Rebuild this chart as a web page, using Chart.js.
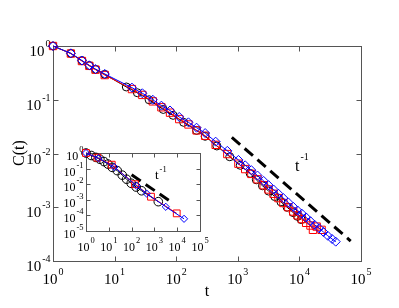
<!DOCTYPE html>
<html>
<head>
<meta charset="utf-8">
<script src="https://cdn.jsdelivr.net/npm/chart.js@4.4.1/dist/chart.umd.min.js"></script>
<style>
  html, body { margin: 0; padding: 0; background: #fff; }
  #wrap { position: relative; width: 399px; height: 308px; }
  #wrap canvas { position: absolute; left: 0; top: 0; }
</style>
</head>
<body>
<div id="wrap">
  <canvas id="mainChart" width="399" height="308"></canvas>
  <canvas id="insetChart" width="399" height="308"></canvas>
</div>
<script>
// ===== DATA (main panel) =====
const tBlue = [1, 1.95, 2.95, 3.89, 4.9, 6.92, 19.1, 28.2, 41.7, 57.5, 79.4, 112, 158, 214, 295, 437, 676, 1023, 1318, 1660, 2089, 2630, 3162, 3802, 4571, 5495, 6607, 7943, 9333, 10965, 12882, 15136, 17783, 20893, 24547, 28840, 33884, 38905];
const cBlue = [1, 0.731, 0.537, 0.437, 0.372, 0.302, 0.168, 0.132, 0.1, 0.0776, 0.0631, 0.0479, 0.038, 0.0302, 0.024, 0.0166, 0.0112, 0.00759, 0.00603, 0.0049, 0.00389, 0.00309, 0.00257, 0.00214, 0.00178, 0.00148, 0.00123, 0.00102, 0.000871, 0.000759, 0.000646, 0.00055, 0.000468, 0.000407, 0.000347, 0.000295, 0.000257, 0.000229];

const tRed = [1, 1.95, 2.95, 3.89, 4.9, 6.92, 19.1, 28.2, 41.7, 57.5, 79.4, 112, 158, 214, 295, 437, 676, 1023, 1318, 1660, 2089, 2630, 3162, 3802, 4571, 5495, 6607, 7943, 9333, 10965, 12882, 15136, 16596, 19055, 22909];
const cRed = [1, 0.724, 0.525, 0.427, 0.363, 0.288, 0.158, 0.123, 0.0933, 0.0724, 0.0575, 0.0437, 0.0347, 0.0269, 0.0214, 0.0145, 0.00977, 0.00646, 0.00513, 0.00417, 0.00331, 0.00257, 0.00214, 0.00178, 0.00148, 0.0012, 0.001, 0.000832, 0.000708, 0.000603, 0.000513, 0.000457, 0.00038, 0.000437, 0.00038];

const tBlack = [1, 1.95, 2.95, 3.89, 4.9, 6.92, 15.5, 23.4, 36.3, 61.7, 89.1, 132, 214, 295, 457, 741, 1096, 1585, 1995, 2512, 3162, 3981, 5012, 6310, 7943, 9333, 10715];
const cBlack = [1, 0.727, 0.532, 0.432, 0.367, 0.297, 0.173, 0.135, 0.1, 0.066, 0.0513, 0.038, 0.0269, 0.0209, 0.0138, 0.0087, 0.00603, 0.00427, 0.00324, 0.00251, 0.002, 0.00158, 0.00126, 0.001, 0.000794, 0.000676, 0.000589];

// t^-1 guide
const tGuide = [800, 68000];
const cGuide = [0.02, 0.000235];

// ===== DATA (inset) =====
const tInBlack = [1, 1.7, 2.69, 4.07, 6.17, 9.12, 14.1, 23.4, 38.9, 60.3, 95.5, 158, 275, 1479];
const cInBlack = [1, 0.692, 0.525, 0.398, 0.282, 0.195, 0.12, 0.0741, 0.038, 0.0209, 0.0115, 0.0066, 0.0038, 0.000759];
const tInRed = [1, 3.16, 13.5, 141, 708, 9550];
const cInRed = [1, 0.5, 0.178, 0.01, 0.00158, 0.000135];
const tInBlue = [1, 3.55, 17.4, 166, 457, 3162, 19953];
const cInBlue = [1, 0.468, 0.126, 0.00794, 0.00251, 0.000355, 0.0000603];
const tInGuide = [100, 5500];
const cInGuide = [0.04, 0.000727];

// ===== TICKS =====
const xTicks = [1, 10, 100, 1000, 10000, 100000];
const xExps = ['0', '1', '2', '3', '4', '5'];
const yTicks = [1, 0.1, 0.01, 0.001, 0.0001];
const yExps = ['0', '-1', '-2', '-3', '-4'];
const yInTicks = [1, 0.1, 0.01, 0.001, 0.0001, 0.00001];
const yInExps = ['0', '-1', '-2', '-3', '-4', '-5'];

const SERIF = '"Liberation Serif", "DejaVu Serif", serif';

function pts(ts, cs) { return ts.map((t, i) => ({ x: t, y: cs[i] })); }

function series(ts, cs, color, style, r) {
  return {
    data: pts(ts, cs), borderColor: color, borderWidth: 1,
    pointStyle: style, pointRadius: r, pointBorderColor: color, pointBorderWidth: 1,
    pointBackgroundColor: 'rgba(0,0,0,0)', tension: 0, clip: false
  };
}
function guide(ts, cs) {
  return {
    data: pts(ts, cs), borderColor: '#000', borderWidth: 3, borderDash: [11, 6],
    borderCapStyle: 'butt', pointRadius: 0, tension: 0, clip: false
  };
}

// "10" with a raised exponent
function powText(ctx, base, exp, x, y, align, size, supSize, rise) {
  ctx.font = size + 'px ' + SERIF;
  const wb = ctx.measureText(base).width;
  ctx.font = supSize + 'px ' + SERIF;
  const we = ctx.measureText(exp).width;
  let x0 = x;
  if (align === 'center') x0 = x - (wb + we + 1) / 2;
  if (align === 'right') x0 = x - wb - we - 1;
  ctx.textAlign = 'left';
  ctx.textBaseline = 'alphabetic';
  ctx.font = size + 'px ' + SERIF;
  ctx.fillText(base, x0, y);
  ctx.font = supSize + 'px ' + SERIF;
  ctx.fillText(exp, x0 + wb + 1, y - rise);
}

function framePlugin(o) {
  return {
    id: 'frame',
    beforeDatasetsDraw(chart) {
      const ctx = chart.ctx, a = chart.chartArea;
      const xs = chart.scales.x, ys = chart.scales.y;
      ctx.save();
      if (o.fill) {
        ctx.fillStyle = '#fff';
        ctx.fillRect(a.left, a.top, a.right - a.left, a.bottom - a.top);
      }
      ctx.strokeStyle = '#555';
      ctx.lineWidth = 1;
      const L = Math.round(a.left) + 0.5, R = Math.round(a.right) + 0.5;
      const T = Math.round(a.top) + 0.5, B = Math.round(a.bottom) + 0.5;
      ctx.strokeRect(L, T, R - L, B - T);
      ctx.beginPath();
      o.xTicks.forEach(v => {
        const px = Math.round(xs.getPixelForValue(v)) + 0.5;
        ctx.moveTo(px, B); ctx.lineTo(px, B - o.tick);
        ctx.moveTo(px, T); ctx.lineTo(px, T + o.tick);
      });
      o.yTicks.forEach(v => {
        const py = Math.round(ys.getPixelForValue(v)) + 0.5;
        ctx.moveTo(L, py); ctx.lineTo(L + o.tick, py);
        ctx.moveTo(R, py); ctx.lineTo(R - o.tick, py);
      });
      ctx.stroke();

      ctx.fillStyle = '#000';
      o.xTicks.forEach((v, i) => {
        powText(ctx, '10', o.xExps[i], xs.getPixelForValue(v), B + o.xBase, 'center', o.size, o.sup, o.rise);
      });
      o.yTicks.forEach((v, i) => {
        powText(ctx, '10', o.yExps[i], L - 3, ys.getPixelForValue(v) + o.yBase, 'right', o.size, o.sup, o.rise);
      });
      if (o.extra) o.extra(ctx);
      ctx.restore();
    }
  };
}

function logChart(id, datasets, yMin, pad, frame) {
  return new Chart(document.getElementById(id), {
    type: 'line',
    data: { datasets },
    options: {
      responsive: false, animation: false, devicePixelRatio: 1, events: [],
      layout: { padding: pad },
      plugins: { legend: { display: false }, tooltip: { enabled: false } },
      scales: {
        x: { type: 'logarithmic', min: 1, max: 100000, display: false },
        y: { type: 'logarithmic', min: yMin, max: 1, display: false }
      }
    },
    plugins: [framePlugin(frame)]
  });
}

// ===== MAIN =====
logChart('mainChart', [
  series(tBlue, cBlue, '#0000ff', 'rectRot', 4.5),
  series(tRed, cRed, '#ff0000', 'rect', 5.2),
  series(tBlack, cBlack, '#000000', 'circle', 4),
  guide(tGuide, cGuide)
], 0.0001, { left: 53, right: 38, top: 46, bottom: 47 }, {
  xTicks, xExps, yTicks, yExps, tick: 5, size: 15, sup: 10, rise: 9, xBase: 22, yBase: 10,
  extra(ctx) {
    ctx.fillStyle = '#000';
    ctx.font = '16px ' + SERIF;
    ctx.textAlign = 'center';
    ctx.textBaseline = 'alphabetic';
    ctx.fillText('t', 207, 296);
    ctx.save();
    ctx.translate(20, 153);
    ctx.rotate(-Math.PI / 2);
    ctx.textBaseline = 'middle';
    ctx.fillText('C(t)', 0, 0);
    ctx.restore();
    powText(ctx, 't', '-1', 295, 171, 'left', 16, 10, 11);
  }
});

// ===== INSET =====
logChart('insetChart', [
  series(tInBlue, cInBlue, '#0000ff', 'rectRot', 3.6),
  series(tInRed, cInRed, '#ff0000', 'rect', 4.8),
  series(tInBlack, cInBlack, '#000000', 'circle', 4.3),
  guide(tInGuide, cInGuide)
], 0.00001, { left: 86, right: 199, top: 153, bottom: 77 }, {
  fill: true, xTicks, xExps, yTicks: yInTicks, yExps: yInExps, tick: 4, size: 12, sup: 8.5, rise: 8, xBase: 19, yBase: 7,
  extra(ctx) {
    ctx.fillStyle = '#000';
    powText(ctx, 't', '-1', 155, 179, 'left', 13, 8.5, 7);
  }
});
</script>
</body>
</html>
